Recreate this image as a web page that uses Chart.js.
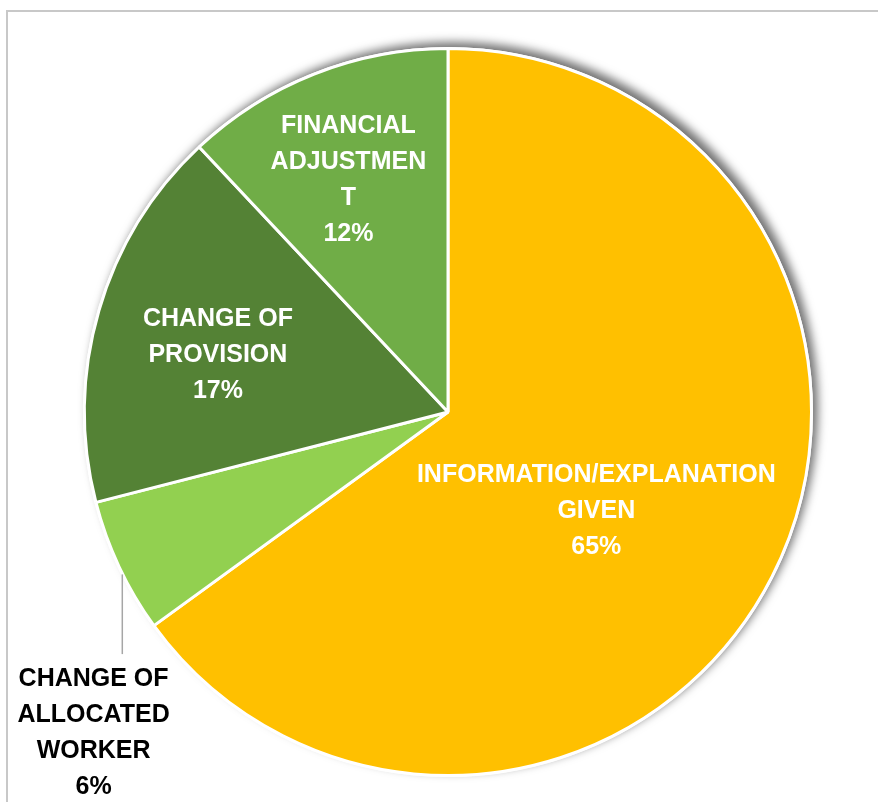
<!DOCTYPE html>
<html>
<head>
<meta charset="utf-8">
<script src="https://cdn.jsdelivr.net/npm/chart.js@4.4.0/dist/chart.umd.min.js"></script>
<style>
  html, body { margin: 0; padding: 0; background: #ffffff; overflow: hidden; }
  #wrap { position: relative; width: 878px; height: 802px; }
  #frame { position: absolute; left: 6px; top: 10px; width: 2000px; height: 2000px;
           border: 2px solid #c8c8c8; box-sizing: border-box; }
  canvas { position: absolute; left: 0; top: 0; }
</style>
</head>
<body>
<div id="wrap">
  <div id="frame"></div>
  <canvas id="c" width="878" height="802"></canvas>
</div>
<script>
// ---- data ----
const categories = [
  ['INFORMATION/EXPLANATION', 'GIVEN'],
  ['CHANGE OF', 'ALLOCATED', 'WORKER'],
  ['CHANGE OF', 'PROVISION'],
  ['FINANCIAL', 'ADJUSTMEN', 'T']
];
const values = [65, 6, 17, 12];
const colors = ['#FFC000', '#92D050', '#548235', '#70AD47'];

// ---- label placement (fractions of radius from pie centre) ----
const labelPos = [
  { fx: 0.408, fy: 0.274, color: '#ffffff' },
  { fx: -0.975, fy: 0.884, color: '#000000', leader: { fx: -0.896, fyEnd: 0.666 } },
  { fx: -0.633, fy: -0.156, color: '#ffffff' },
  { fx: -0.274, fy: -0.638, color: '#ffffff' }
];

const shadowPlugin = {
  id: 'pieShadow',
  beforeDatasetsDraw(chart) {
    const arc = chart.getDatasetMeta(0).data[0];
    if (!arc) return;
    const { x, y, outerRadius } = arc.getProps(['x', 'y', 'outerRadius'], true);
    const ctx = chart.ctx;
    ctx.save();
    ctx.shadowColor = 'rgba(0,0,0,0.55)';
    ctx.shadowBlur = 10;
    ctx.shadowOffsetX = 5;
    ctx.shadowOffsetY = -5;
    ctx.fillStyle = '#ffffff';
    ctx.beginPath();
    ctx.arc(x, y, outerRadius + 1.5, 0, Math.PI * 2);
    ctx.fill();
    ctx.restore();
  }
};

const labelPlugin = {
  id: 'pieLabels',
  afterDatasetsDraw(chart) {
    const meta = chart.getDatasetMeta(0);
    const ds = chart.data.datasets[0].data;
    const total = ds.reduce((a, b) => a + b, 0);
    const ctx = chart.ctx;
    ctx.save();
    ctx.font = 'bold 25px "Liberation Sans", Arial, sans-serif';
    ctx.textAlign = 'center';
    ctx.textBaseline = 'middle';
    const lineH = 36;
    meta.data.forEach((arc, i) => {
      const { x, y, outerRadius: r } = arc.getProps(['x', 'y', 'outerRadius'], true);
      const p = labelPos[i];
      const lines = chart.data.labels[i].concat([Math.round(ds[i] / total * 100) + '%']);
      const cx = x + p.fx * r;
      const cy = y + p.fy * r;
      if (p.leader) {
        const lx = x + p.leader.fx * r;
        const dx = lx - x;
        const ly0 = y + Math.sqrt(Math.max(r * r - dx * dx, 0)) + 1;
        const ly1 = y + p.leader.fyEnd * r;
        ctx.strokeStyle = '#a6a6a6';
        ctx.lineWidth = 1.5;
        ctx.beginPath();
        ctx.moveTo(lx, ly0);
        ctx.lineTo(lx, ly1);
        ctx.stroke();
      }
      ctx.fillStyle = p.color;
      const startY = cy - (lines.length - 1) * lineH / 2;
      lines.forEach((t, k) => ctx.fillText(t, cx, startY + k * lineH));
    });
    ctx.restore();
  }
};

new Chart(document.getElementById('c'), {
  type: 'pie',
  data: {
    labels: categories,
    datasets: [{
      data: values,
      backgroundColor: colors,
      borderColor: '#ffffff',
      borderWidth: 3
    }]
  },
  options: {
    responsive: false,
    animation: false,
    layout: { padding: { left: 83, right: 65, top: 47, bottom: 25 } },
    plugins: { legend: { display: false }, tooltip: { enabled: false } }
  },
  plugins: [shadowPlugin, labelPlugin]
});
</script>
</body>
</html>
